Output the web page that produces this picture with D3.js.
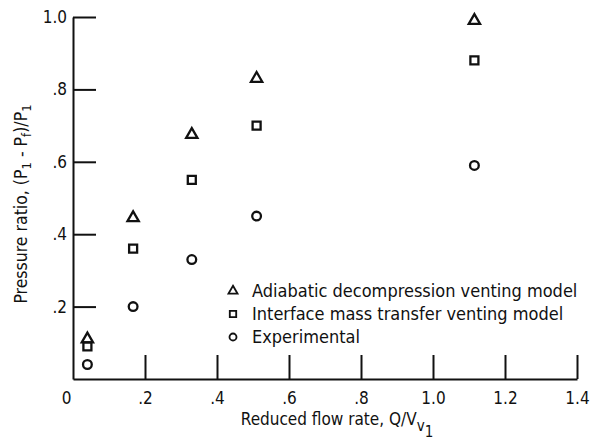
<!DOCTYPE html>
<html>
<head>
<meta charset="utf-8">
<script src="https://cdn.jsdelivr.net/npm/d3@7"></script>
<style>
  body { margin: 0; background: #fff; }
  svg text { font-family: "DejaVu Sans Condensed", "DejaVu Sans", sans-serif; fill: #111; }
</style>
</head>
<body>
<div id="chart"></div>
<script>
// flow rates (Q/V_v1) shared by all series
const flowRates = [0.04, 0.167, 0.33, 0.51, 1.115];
const adiabatic = [0.11, 0.445, 0.675, 0.83, 0.99];
const interfaceModel = [0.09, 0.36, 0.55, 0.70, 0.88];
const experimental = [0.04, 0.20, 0.33, 0.45, 0.59];

const xTicks = [0, 0.2, 0.4, 0.6, 0.8, 1.0, 1.2, 1.4];
const xTickLabels = ["0", ".2", ".4", ".6", ".8", "1.0", "1.2", "1.4"];
const yTicks = [0.2, 0.4, 0.6, 0.8, 1.0];
const yTickLabels = [".2", ".4", ".6", ".8", "1.0"];

const legendLabels = [
    "Adiabatic decompression venting model",
    "Interface mass transfer venting model",
    "Experimental"
];

const width = 605, height = 445;
const margin = { top: 17, right: 28, bottom: 66, left: 73 };

const svg = d3.select('#chart').append('svg')
    .attr('width', width)
    .attr('height', height);

const x = d3.scaleLinear().domain([0, 1.4]).range([margin.left, width - margin.right]);
const y = d3.scaleLinear().domain([0, 1.0]).range([height - margin.bottom, margin.top]);

// x axis, ticks point inward
const xAxis = svg.append('g')
    .attr('transform', `translate(0,${y(0)})`)
    .call(d3.axisBottom(x)
        .tickValues(xTicks)
        .tickSize(-24)
        .tickSizeOuter(0)
        .tickPadding(13)
        .tickFormat((d, i) => xTickLabels[i]));
xAxis.select('.domain').attr('stroke', '#111').attr('stroke-width', 2);
xAxis.selectAll('.tick line').attr('stroke', '#111').attr('stroke-width', 2)
    .filter(d => d === 0).remove();
xAxis.selectAll('.tick text').attr('font-size', 17).attr('dy', '0.71em')
    .attr('dx', d => d === 0 ? -7 : 0);

// y axis, ticks point inward
const yAxis = svg.append('g')
    .attr('transform', `translate(${x(0)},0)`)
    .call(d3.axisLeft(y)
        .tickValues(yTicks)
        .tickSize(-23)
        .tickSizeOuter(0)
        .tickPadding(6)
        .tickFormat((d, i) => yTickLabels[i]));
yAxis.select('.domain').attr('stroke', '#111').attr('stroke-width', 2);
yAxis.selectAll('.tick line').attr('stroke', '#111').attr('stroke-width', 2);
yAxis.selectAll('.tick text').attr('font-size', 17);

// axis titles
const xTitle = svg.append('text')
    .attr('x', 337)
    .attr('y', 425)
    .attr('text-anchor', 'middle')
    .attr('font-size', 17);
xTitle.append('tspan').text('Reduced flow rate, Q/V');
xTitle.append('tspan').attr('font-size', 15).attr('dy', 6).text('v');
xTitle.append('tspan').attr('font-size', 15).attr('dy', 6).text('1');

const yTitle = svg.append('text')
    .attr('transform', 'translate(27,204) rotate(-90)')
    .attr('text-anchor', 'middle')
    .attr('font-size', 17.5);
yTitle.append('tspan').text('Pressure ratio, (P');
yTitle.append('tspan').attr('font-size', 13).attr('dy', 4).text('1');
yTitle.append('tspan').attr('dy', -4).text(' - P');
yTitle.append('tspan').attr('font-size', 13).attr('dy', 4).text('f');
yTitle.append('tspan').attr('dy', -4).text(')/P');
yTitle.append('tspan').attr('font-size', 13).attr('dy', 4).text('1');

// markers
const markerStyle = sel => sel.attr('fill', 'none').attr('stroke', '#111').attr('stroke-width', 2.3);
const triangle = d3.symbol().type(d3.symbolTriangle).size(55);
const square = d3.symbol().type(d3.symbolSquare).size(64);
const circle = d3.symbol().type(d3.symbolCircle).size(60);

const series = [
    { values: adiabatic, shape: triangle },
    { values: interfaceModel, shape: square },
    { values: experimental, shape: circle }
];

series.forEach(s => {
    svg.append('g').selectAll('path')
        .data(s.values)
        .enter()
        .append('path')
        .attr('d', s.shape)
        .attr('transform', (d, i) => `translate(${x(flowRates[i])},${y(d)})`)
        .call(markerStyle);
});

// legend
const legend = svg.append('g').attr('transform', 'translate(233,291)');
series.forEach((s, i) => {
    legend.append('path')
        .attr('d', s.shape)
        .attr('transform', `translate(0,${i * 23}) scale(0.8)`)
        .call(markerStyle);
    legend.append('text')
        .attr('x', 19)
        .attr('y', i * 23)
        .attr('dy', '0.35em')
        .attr('font-size', 18)
        .text(legendLabels[i]);
});
</script>
</body>
</html>
